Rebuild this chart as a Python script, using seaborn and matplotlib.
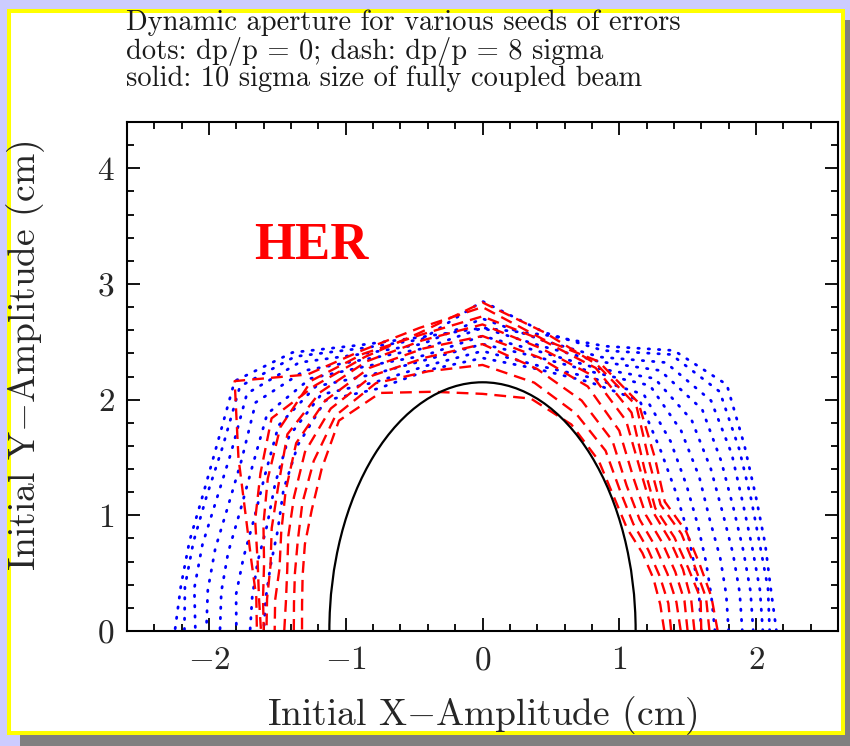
import numpy as np
import pandas as pd
import matplotlib
matplotlib.use("Agg")
import matplotlib.pyplot as plt
from matplotlib.patches import Ellipse, Rectangle
from matplotlib.ticker import MultipleLocator
import seaborn as sns

# ---------------- data ----------------
# Launch angles of the tracking scan (degrees) and dynamic-aperture radius (cm)
ANGLES_DEG = [0, 10, 20, 30, 40, 50, 60, 70, 80, 90, 100, 110, 120, 130, 140, 150, 160, 170, 180]

# dots: dp/p = 0, one list per error seed
BLUE_SEED_1 = [2.15, 2.14, 2.20, 2.31, 2.50, 2.78, 2.80, 2.62, 2.60, 2.62, 2.58, 2.63, 2.78, 2.82, 2.53, 2.36, 2.28, 2.24, 2.25]
BLUE_SEED_2 = [2.10, 2.12, 2.16, 2.27, 2.45, 2.70, 2.76, 2.58, 2.62, 2.85, 2.56, 2.60, 2.74, 2.76, 2.48, 2.33, 2.25, 2.21, 2.18]
BLUE_SEED_3 = [2.05, 2.06, 2.10, 2.20, 2.38, 2.60, 2.68, 2.52, 2.55, 2.70, 2.52, 2.55, 2.68, 2.68, 2.40, 2.25, 2.18, 2.14, 2.10]
BLUE_SEED_4 = [1.98, 1.99, 2.03, 2.12, 2.28, 2.50, 2.60, 2.48, 2.50, 2.62, 2.48, 2.50, 2.60, 2.58, 2.30, 2.15, 2.08, 2.04, 2.02]
BLUE_SEED_5 = [1.90, 1.91, 1.95, 2.03, 2.18, 2.38, 2.52, 2.42, 2.45, 2.55, 2.42, 2.44, 2.52, 2.45, 2.20, 2.05, 1.98, 1.94, 1.92]
BLUE_SEED_6 = [1.80, 1.81, 1.85, 1.92, 2.07, 2.26, 2.45, 2.38, 2.40, 2.48, 2.38, 2.36, 2.44, 2.32, 2.08, 1.93, 1.86, 1.83, 1.80]
BLUE_SEED_7 = [1.70, 1.70, 1.74, 1.82, 1.95, 2.14, 2.36, 2.33, 2.33, 2.42, 2.33, 2.29, 2.36, 2.20, 1.98, 1.82, 1.75, 1.71, 1.70]
BLUE_SEED_8 = [1.60, 1.61, 1.65, 1.73, 1.85, 2.03, 2.30, 2.29, 2.30, 2.36, 2.29, 2.23, 2.30, 2.10, 1.90, 1.73, 1.65, 1.61, 1.60]

# dash: dp/p = 8 sigma, one list per error seed
RED_SEED_1 = [1.72, 1.70, 1.69, 1.72, 1.74, 1.96, 2.28, 2.48, 2.56, 2.80, 2.66, 2.58, 2.56, 2.82, 2.33, 2.00, 1.80, 1.68, 1.65]
RED_SEED_2 = [1.66, 1.66, 1.65, 1.68, 1.70, 1.90, 2.25, 2.45, 2.62, 2.84, 2.62, 2.52, 2.45, 2.40, 2.12, 1.92, 1.75, 1.66, 1.62]
RED_SEED_3 = [1.60, 1.62, 1.60, 1.62, 1.65, 1.84, 2.18, 2.42, 2.55, 2.72, 2.60, 2.55, 2.50, 2.30, 2.05, 1.85, 1.70, 1.63, 1.60]
RED_SEED_4 = [1.55, 1.55, 1.56, 1.58, 1.62, 1.80, 2.10, 2.35, 2.48, 2.65, 2.55, 2.48, 2.38, 2.22, 1.95, 1.78, 1.65, 1.60, 1.58]
RED_SEED_5 = [1.50, 1.50, 1.50, 1.52, 1.56, 1.72, 2.00, 2.25, 2.40, 2.55, 2.48, 2.42, 2.30, 2.12, 1.88, 1.70, 1.58, 1.54, 1.52]
RED_SEED_6 = [1.45, 1.44, 1.44, 1.46, 1.50, 1.64, 1.90, 2.12, 2.30, 2.48, 2.40, 2.35, 2.22, 2.02, 1.80, 1.64, 1.52, 1.46, 1.45]
RED_SEED_7 = [1.38, 1.38, 1.38, 1.40, 1.44, 1.57, 1.80, 2.00, 2.18, 2.30, 2.28, 2.28, 2.15, 1.92, 1.72, 1.56, 1.46, 1.40, 1.38]
RED_SEED_8 = [1.33, 1.32, 1.33, 1.35, 1.38, 1.50, 1.70, 1.90, 2.04, 2.05, 2.10, 2.19, 2.10, 1.83, 1.63, 1.50, 1.40, 1.34, 1.32]

# solid: 10 sigma size of fully coupled beam (semi-axes, cm)
BEAM_HALF_X = 1.12
BEAM_HALF_Y = 2.15

X_TICKS = [-2, -1, 0, 1, 2]
Y_TICKS = [0, 1, 2, 3, 4]
TITLE_LINES = [
    "Dynamic aperture for various seeds of errors",
    "dots: dp/p = 0; dash: dp/p = 8 sigma",
    "solid: 10 sigma size of fully coupled beam",
]
X_LABEL = "Initial X$-$Amplitude (cm)"
Y_LABEL = "Initial Y$-$Amplitude (cm)"
RING_LABEL = "HER"

BLUE_SEEDS = [BLUE_SEED_1, BLUE_SEED_2, BLUE_SEED_3, BLUE_SEED_4,
              BLUE_SEED_5, BLUE_SEED_6, BLUE_SEED_7, BLUE_SEED_8]
RED_SEEDS = [RED_SEED_1, RED_SEED_2, RED_SEED_3, RED_SEED_4,
             RED_SEED_5, RED_SEED_6, RED_SEED_7, RED_SEED_8]


def to_frame(seeds):
    ang = np.deg2rad(np.array(ANGLES_DEG, dtype=float))
    rows = []
    for k, radii in enumerate(seeds):
        r = np.array(radii, dtype=float)
        for i in range(len(r)):
            rows.append({"seed": k, "order": i,
                         "x": r[i] * np.cos(ang[i]), "y": r[i] * np.sin(ang[i])})
    return pd.DataFrame(rows)


blue_df = to_frame(BLUE_SEEDS)
red_df = to_frame(RED_SEEDS)

# ---------------- style ----------------
sns.set_theme(style="white")
plt.rcParams["font.family"] = ["cmr10", "DejaVu Serif"]
plt.rcParams["mathtext.fontset"] = "cm"
plt.rcParams["axes.formatter.use_mathtext"] = True
plt.rcParams["axes.unicode_minus"] = True

W, H = 850, 746
fig = plt.figure(figsize=(W / 100, H / 100), dpi=100, facecolor="#ccccff")

# page decorations (shadow + yellow framed white card), drawn beneath the axes
shadow = Rectangle((20 / W, 0), (W - 20) / W, (H - 20) / H, transform=fig.transFigure,
                   fc="#808080", ec="none", zorder=-3)
card = Rectangle((9 / W, 13 / H), 834 / W, 722 / H, transform=fig.transFigure,
                 fc="white", ec="#ffff00", lw=2.9, zorder=-2)
fig.patches.extend([shadow, card])

ax = fig.add_axes([127 / W, 1 - 631 / H, (838 - 127) / W, (631 - 122) / H])
ax.set_zorder(2)
ax.set_facecolor("white")

sns.lineplot(data=blue_df, x="x", y="y", units="seed", estimator=None, sort=False,
             color="#0000ff", lw=2.0, linestyle=(0, (0.5, 3.2)),
             dash_capstyle="round", ax=ax, legend=False)
sns.lineplot(data=red_df, x="x", y="y", units="seed", estimator=None, sort=False,
             color="#ff0000", lw=1.7, linestyle=(0, (5, 3)),
             ax=ax, legend=False)
ax.add_patch(Ellipse((0, 0), 2 * BEAM_HALF_X, 2 * BEAM_HALF_Y, fill=False,
                     ec="black", lw=1.6, zorder=3))

ax.set_xlim(-2.6, 2.6)
ax.set_ylim(0, 4.4)
ax.set_xticks(X_TICKS)
ax.set_yticks(Y_TICKS)
ax.xaxis.set_minor_locator(MultipleLocator(0.2))
ax.yaxis.set_minor_locator(MultipleLocator(0.2))
ax.tick_params(which="both", direction="in", top=True, right=True,
               bottom=True, left=True, color="black", width=1.3)
ax.tick_params(which="major", length=9.5, labelsize=24)
ax.tick_params(which="minor", length=5)
ax.tick_params(axis="x", which="major", pad=11)
ax.tick_params(axis="y", which="major", pad=9)
for s in ax.spines.values():
    s.set_color("black")
    s.set_linewidth(1.5)

ax.set_xlabel(X_LABEL, fontsize=27)
ax.set_ylabel(Y_LABEL, fontsize=27)
ax.xaxis.set_label_coords(0.499, -0.125)
ax.yaxis.set_label_coords(-0.112, 0.54)

ax.text(0.259, 0.756, RING_LABEL, transform=ax.transAxes, ha="center", va="center",
        color="#ff0000", fontsize=38, fontweight="bold",
        family=["Liberation Serif", "DejaVu Serif"])

for i, line in enumerate(TITLE_LINES):
    fig.text(126 / W, 1 - (9 + 28 * i) / H, line, ha="left", va="top",
             fontsize=20.5, color="#1a1a1a")

fig.savefig("out.png", dpi=100, facecolor=fig.get_facecolor())
